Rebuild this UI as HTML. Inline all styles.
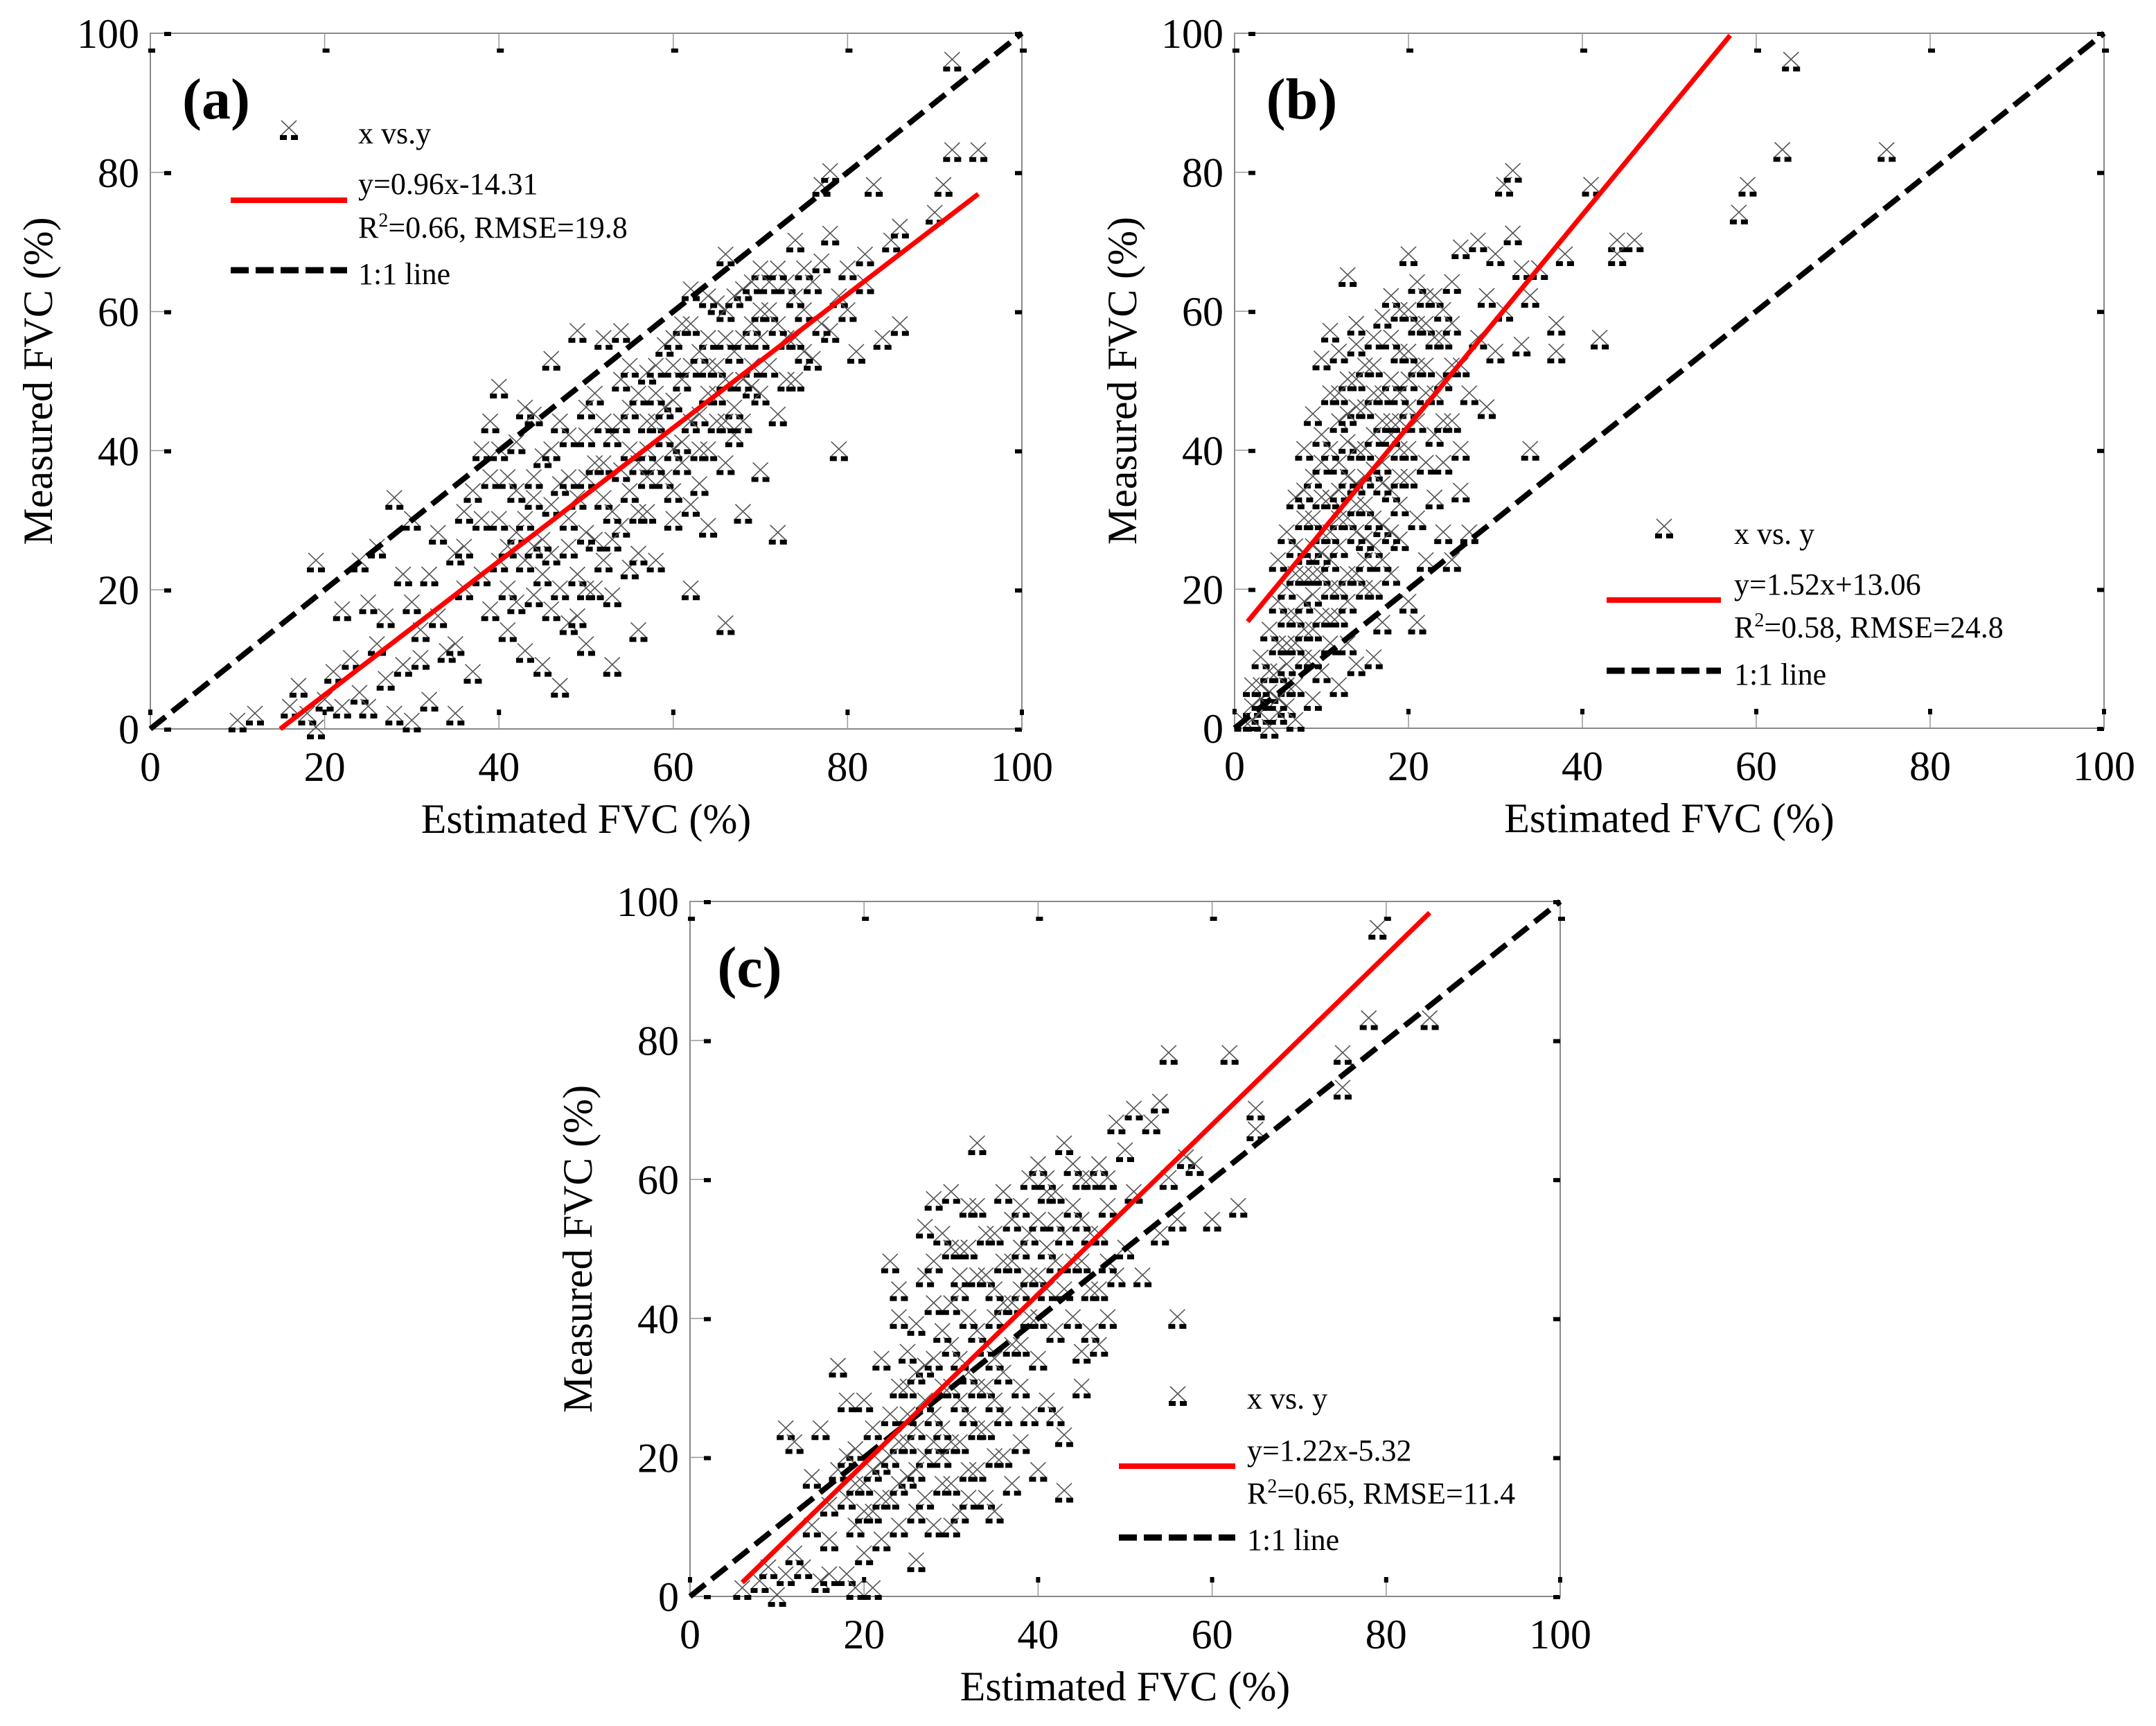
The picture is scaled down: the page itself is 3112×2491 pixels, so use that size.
<!DOCTYPE html>
<html><head><meta charset="utf-8"><style>
html,body{margin:0;padding:0;background:#fff;}
svg{display:block;font-family:"Liberation Serif",serif;}
</style></head><body>
<svg id="fig" width="3112" height="2491" viewBox="0 0 3112 2491" xmlns="http://www.w3.org/2000/svg"></svg>
<script>
const ticks=[0,20,40,60,80,100];
const tickLabels=["0","20","40","60","80","100"];
const slopes=[0.96,1.52,1.22];
const intercepts=[-14.31,13.06,-5.32];
const fitRanges=[[14.9,95],[1.5,57],[6,85]];
const eqLabels=["y=0.96x-14.31","y=1.52x+13.06","y=1.22x-5.32"];
const r2Labels=["0.66","0.58","0.65"];
const rmseLabels=["19.8","24.8","11.4"];
const markerLabels=["x vs.y","x vs. y","x vs. y"];
const panelLabels=["(a)","(b)","(c)"];
const pointsA=[[10,1],[12,2],[16,3],[17,6],[18,2],[19,0],[20,4],[21,8],[22,3],[23,10],[24,5],[25,3],[26,12],[27,7],[28,2],[29,9],[30,1],[31,14],[32,4],[33,16],[34,11],[35,2],[28,33],[29,22],[30,18],[19,24],[22,17],[24,24],[26,26],[30,30],[33,28],[35,25],[36,20],[38,22],[37,34],[38,40],[39,44],[40,49],[40,30],[41,36],[42,28],[42,41],[43,46],[43,11],[44,19],[44,33],[45,39],[45,9],[46,25],[46,53],[47,6],[47,44],[48,30],[48,15],[49,57],[49,22],[50,36],[50,12],[51,27],[51,48],[52,33],[52,56],[53,19],[53,42],[54,29],[54,57],[55,23],[55,46],[56,38],[56,14],[57,51],[57,31],[58,44],[58,24],[59,55],[59,36],[60,47],[60,30],[61,58],[61,41],[62,52],[62,20],[62,63],[63,35],[63,45],[64,56],[64,29],[65,61],[65,48],[66,38],[66,68],[66,15],[67,54],[67,42],[68,63],[68,31],[69,49],[69,58],[70,66],[70,37],[71,52],[71,60],[72,45],[72,28],[73,56],[73,64],[74,50],[74,70],[75,60],[76,53],[77,67],[77,78],[78,71],[78,57],[79,62],[79,40],[80,66],[81,54],[82,64],[82,68],[83,78],[84,56],[85,70],[86,72],[90,74],[91,78],[92,96],[92,83],[95,83],[35,12],[37,8],[39,17],[41,20],[45,27],[47,35],[52,24],[54,37],[58,38],[60,34],[48,42],[44,45],[40,40],[41,26],[36,31],[32,22],[27,16],[25,18],[31,10],[43,24],[46,17],[50,20],[53,9],[56,31],[60,56],[64,40],[66,56],[70,56],[75,66],[78,80],[80,60],[86,58],
[44,36],[46,40],[48,26],[49,33],[50,28],[51,38],[52,44],[53,31],[54,50],[55,34],[56,48],[57,40],[58,52],[59,46],[60,40],[61,50],[62,44],[63,54],[64,48],[65,52],[66,60],[67,46],[68,56],[69,52],[70,60],[71,64],[72,58],[73,50],[74,62],[75,54],[76,64],[77,58],[42,34],[43,30],[45,22],[47,20],[49,16],[50,42],[52,38],[54,44],[55,52],[57,36],[58,48],[59,42],[61,38],[62,32],[63,40],[64,62],[65,44],[66,50],[67,62],[68,44],[69,64],[70,48],[72,66],[74,56],[36,26],[38,30],[39,36],[40,24],[41,14],[42,18],[44,26],[46,32],[48,36],[50,46],[51,20],[53,27],[55,40],[56,25],[57,44],[60,52],[62,58],[64,52],[66,44],[68,50]];
const pointsB=[[1,1],[2,3],[2,6],[3,2],[3,10],[4,0],[4,5],[4,14],[5,8],[5,18],[5,24],[6,3],[6,12],[6,20],[6,28],[7,6],[7,16],[7,22],[7,33],[8,10],[8,25],[8,30],[8,40],[9,4],[9,14],[9,19],[9,36],[9,45],[10,8],[10,22],[10,28],[10,42],[10,53],[11,12],[11,24],[11,33],[11,48],[11,57],[12,16],[12,26],[12,38],[12,44],[12,54],[13,18],[13,30],[13,41],[13,50],[13,65],[14,9],[14,22],[14,35],[14,46],[14,58],[15,20],[15,32],[15,40],[15,52],[16,26],[16,37],[16,48],[16,56],[17,15],[17,29],[17,44],[17,59],[18,22],[18,34],[18,50],[18,62],[19,27],[19,40],[19,54],[20,18],[20,36],[20,46],[20,60],[20,68],[21,15],[21,30],[21,52],[21,64],[22,38],[22,48],[22,58],[23,42],[23,62],[24,28],[24,50],[24,56],[25,24],[25,44],[25,64],[26,40],[26,52],[26,69],[27,28],[27,48],[28,56],[28,70],[29,46],[29,62],[30,54],[30,68],[31,78],[31,60],[32,80],[32,71],[33,55],[33,66],[34,40],[34,62],[35,66],[37,58],[37,54],[38,68],[41,78],[42,56],[44,70],[44,68],[46,70],[58,74],[59,78],[63,83],[64,96],[75,83],[3,4],[5,2],[6,9],[7,1],[8,18],[9,26],[10,33],[11,16],[12,6],[13,12],[15,27],[16,10],[17,35],[19,44],[22,24],[23,33],[12,48],[14,55],[18,42],[20,50],[24,38],[26,34],
[8,22],[9,30],[10,25],[10,38],[11,20],[11,40],[12,30],[12,34],[13,22],[13,36],[13,45],[14,28],[14,40],[14,50],[15,24],[15,36],[15,46],[16,30],[16,42],[16,52],[17,38],[17,48],[18,28],[18,44],[18,56],[19,32],[19,48],[19,60],[20,40],[20,54],[21,44],[21,58],[22,52],[22,62],[23,48],[23,56],[24,44],[24,60],[25,52],[25,58],[6,16],[7,12],[7,26],[8,14],[8,34],[9,10],[9,22],[10,16],[11,28],[12,20],[4,8],[5,12],[6,6],[3,6],[2,1],[5,4],[14,32],[16,20],[17,24],[19,36]];
const pointsC=[[6,1],[8,2],[9,4],[10,0],[11,3],[11,24],[12,22],[13,4],[14,10],[14,17],[15,2],[15,24],[16,8],[16,13],[17,33],[17,18],[18,3],[18,14],[18,28],[19,10],[19,21],[20,6],[20,16],[20,28],[21,1],[21,12],[21,24],[22,8],[22,19],[22,34],[23,14],[23,26],[23,48],[24,22],[24,40],[24,44],[25,17],[25,30],[25,35],[26,12],[26,24],[26,39],[27,20],[27,33],[27,46],[28,10],[28,26],[28,42],[28,57],[29,16],[29,30],[29,52],[30,22],[30,36],[30,58],[31,12],[31,28],[31,44],[32,18],[32,32],[32,50],[33,24],[33,38],[33,65],[33,56],[34,14],[34,30],[34,46],[35,20],[35,34],[35,52],[36,26],[36,42],[36,58],[37,16],[37,36],[37,48],[38,30],[38,44],[38,56],[39,26],[39,40],[39,52],[40,34],[40,46],[40,62],[40,18],[41,28],[41,50],[41,58],[42,38],[42,54],[43,23],[43,44],[43,65],[43,15],[44,40],[44,56],[44,62],[45,30],[45,48],[45,60],[46,38],[46,52],[47,36],[47,44],[47,62],[48,40],[48,56],[49,46],[49,68],[50,50],[50,64],[51,58],[51,70],[52,46],[53,68],[54,52],[54,71],[55,60],[55,78],[56,40],[56,54],[57,63],[58,62],[60,54],[62,78],[63,56],[65,70],[65,67],[75,73],[75,78],[78,83],[79,96],[85,83],[12,6],[16,3],[19,1],[24,10],[26,5],[30,10],[35,12],[38,22],[42,26],[27,53],[31,46],[35,44],[39,60],[45,35],[48,48],
[24,30],[25,26],[26,32],[27,28],[28,34],[28,22],[29,38],[29,24],[30,30],[30,42],[31,34],[31,50],[32,26],[32,40],[33,30],[33,46],[34,36],[34,52],[35,28],[35,40],[36,32],[36,48],[37,42],[37,54],[38,36],[38,50],[39,46],[40,40],[40,54],[41,44],[41,60],[42,48],[42,58],[43,52],[44,48],[45,54],[46,44],[46,60],[47,52],[48,60],[18,20],[19,16],[20,12],[21,18],[22,14],[23,20],[24,16],[25,22],[26,18],[27,14],[29,20],[30,16],[31,22],[32,14],[33,18],[34,24],[36,20],[28,48],[30,50],[32,56]];
const allPoints=[pointsA,pointsB,pointsC];

const NS="http://www.w3.org/2000/svg";
const fig=document.getElementById('fig');
function mk(tag,attrs,parent){const e=document.createElementNS(NS,tag);for(const k in attrs)e.setAttribute(k,attrs[k]);(parent||fig).appendChild(e);return e;}

const panels=[
 {x0:217,x1:1475,y0:1052,y1:48,lab:[312,143],
  leg:{mx:417,my:187,tx:517,t1:207,lx1:333,lx2:501,ly:289,eq:280,r2:343,one:410,dy:390}},
 {x0:1782,x1:3037,y0:1051,y1:48,lab:[1879,143],
  leg:{mx:2402,my:762,tx:2503,t1:785,lx1:2319,lx2:2484,ly:866,eq:858,r2:920,one:988,dy:968}},
 {x0:996,x1:2252,y0:2304,y1:1301,lab:[1082,1396],
  leg:{mx:1700,my:2014,tx:1800,t1:2033,lx1:1615,lx2:1783,ly:2116,eq:2108,r2:2170,one:2237,dy:2219}}
];

function marker(g,px,py){
  const m=mk('g',{},g);
  
  
  mk('path',{d:`M${px-11} ${py-13}L${px+11} ${py+8}M${px+11} ${py-13}L${px-11} ${py+8}`,stroke:'#555','stroke-width':1.6,fill:'none'},m);
  mk('rect',{x:px-13,y:py+8,width:10,height:7,fill:'#000'},m);
  mk('rect',{x:px+3,y:py+8,width:10,height:7,fill:'#000'},m);
}

panels.forEach((p,i)=>{
  const sx=v=>p.x0+(p.x1-p.x0)*v/100;
  const sy=v=>p.y0+(p.y1-p.y0)*v/100;
  const g=mk('g',{});
  
  
  const fr=mk('rect',{x:p.x0,y:p.y1,width:p.x1-p.x0,height:p.y0-p.y1,fill:'none',stroke:'#888','stroke-width':2},g);
  
  
  ticks.forEach((t,k)=>{
    const X=sx(t),Y=sy(t);
    mk('line',{x1:X,y1:p.y1,x2:X,y2:p.y1+22,stroke:'#999','stroke-width':1.5},g);
    mk('rect',{x:X-3,y:p.y1+22,width:10,height:6,fill:'#000'},g);
    mk('line',{x1:X,y1:p.y0,x2:X,y2:p.y0-22,stroke:'#999','stroke-width':1.5},g);
    mk('rect',{x:X-3,y:p.y0-28,width:6,height:8,fill:'#000'},g);
    mk('line',{x1:p.x0,y1:Y,x2:p.x0+20,y2:Y,stroke:'#999','stroke-width':1.5},g);
    mk('rect',{x:p.x0+20,y:Y-2,width:10,height:6,fill:'#000'},g);
    mk('rect',{x:p.x1-10,y:Y-2,width:10,height:6,fill:'#000'},g);
    const xl=mk('text',{x:X,y:p.y0+75,'font-size':60,'text-anchor':'middle',fill:'#000'},g);
    xl.textContent=tickLabels[k];
    
    
    const yl=mk('text',{x:p.x0-16,y:Y+21,'font-size':60,'text-anchor':'end',fill:'#000'},g);
    yl.textContent=tickLabels[k];
    
    
  });
  const xt=mk('text',{x:(p.x0+p.x1)/2,y:p.y0+150,'font-size':60,'text-anchor':'middle'},g);
  xt.textContent='Estimated FVC (%)';
  
  
  const yx=p.x0-142,yy=(p.y0+p.y1)/2;
  const yt=mk('text',{x:yx,y:yy,'font-size':60,'text-anchor':'middle',transform:`rotate(-90 ${yx} ${yy})`},g);
  yt.textContent='Measured FVC (%)';
  
  
  const pg=mk('g',{},g);
  
  
  allPoints[i].forEach(d=>marker(pg,sx(d[0]),sy(d[1])));
  const one=mk('line',{x1:sx(0),y1:sy(0),x2:sx(100),y2:sy(100),stroke:'#000','stroke-width':8,'stroke-dasharray':'28 12'},g);
  
  
  const [a,b]=fitRanges[i];
  const fit=mk('line',{x1:sx(a),y1:sy(slopes[i]*a+intercepts[i]),x2:sx(b),y2:sy(slopes[i]*b+intercepts[i]),stroke:'#f00','stroke-width':7},g);
  
  
  const pl=mk('text',{x:p.lab[0],y:p.lab[1]+28,'font-size':84,'font-weight':'bold','text-anchor':'middle'},g);
  pl.textContent=panelLabels[i];
  
  
  const L=p.leg;
  const lg=mk('g',{},g);
  
  
  marker(lg,L.mx,L.my);
  const t1=mk('text',{x:L.tx,y:L.t1,'font-size':44},lg);
  t1.textContent=markerLabels[i];
  
  
  mk('line',{x1:L.lx1,y1:L.ly,x2:L.lx2,y2:L.ly,stroke:'#f00','stroke-width':8},lg);
  const t2=mk('text',{x:L.tx,y:L.eq,'font-size':44},lg);
  t2.textContent=eqLabels[i];
  
  
  const t3=mk('text',{x:L.tx,y:L.r2,'font-size':44},lg);
  
  
  const s1=mk('tspan',{},t3);s1.textContent='R';
  const s2=mk('tspan',{dy:-16,'font-size':28},t3);s2.textContent='2';
  const s3=mk('tspan',{dy:16},t3);s3.textContent='='+r2Labels[i]+', RMSE='+rmseLabels[i];
  mk('line',{x1:L.lx1,y1:L.dy,x2:L.lx2,y2:L.dy,stroke:'#000','stroke-width':9,'stroke-dasharray':'26 10'},lg);
  const t4=mk('text',{x:L.tx,y:L.one,'font-size':44},lg);
  t4.textContent='1:1 line';
  
  
});
</script>
</body></html>
